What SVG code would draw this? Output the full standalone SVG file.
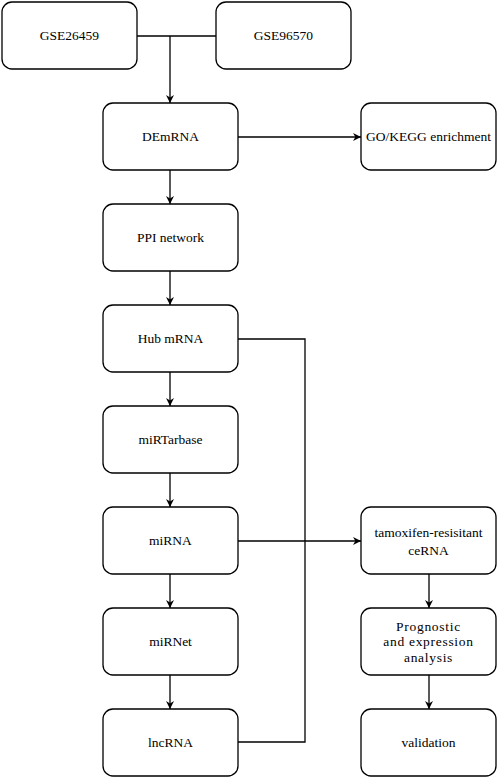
<svg xmlns="http://www.w3.org/2000/svg" width="498" height="780" viewBox="0 0 498 780">
<style>
.b{fill:#fff;stroke:#000;stroke-width:1.3}
.t{font-size:13.5px;fill:#000;text-anchor:middle;dominant-baseline:central}
.c{fill:none;stroke:#000;stroke-width:1.3}
.s{letter-spacing:0.7px}
</style>
<defs>
<marker id="a" viewBox="0 0 10 10" refX="10" refY="5" markerWidth="8" markerHeight="8" markerUnits="userSpaceOnUse" orient="auto">
<path d="M0,0 L10,5 L0,10 L3,5 Z" fill="#000"/>
</marker>
</defs>
<g id="connectors">
<path class="c" d="M137,36 H216"/>
<path class="c" d="M170,36 V103" marker-end="url(#a)"/>
<path class="c" d="M238,137 H361" marker-end="url(#a)"/>
<path class="c" d="M170,170 V204" marker-end="url(#a)"/>
<path class="c" d="M170,271 V305" marker-end="url(#a)"/>
<path class="c" d="M238,339 H305 V742 H238"/>
<path class="c" d="M170,372 V406" marker-end="url(#a)"/>
<path class="c" d="M170,473 V507" marker-end="url(#a)"/>
<path class="c" d="M238,541 H361" marker-end="url(#a)"/>
<path class="c" d="M170,574 V608" marker-end="url(#a)"/>
<path class="c" d="M170,675 V709" marker-end="url(#a)"/>
<path class="c" d="M429,574 V608" marker-end="url(#a)"/>
<path class="c" d="M429,675 V709" marker-end="url(#a)"/>
</g>
<g font-family="'Liberation Serif', 'DejaVu Serif', serif">
<g id="gse26459"><rect class="b" x="2" y="2" width="135" height="67" rx="10"/><text class="t" x="69.5" y="35.5">GSE26459</text></g>
<g id="gse96570"><rect class="b" x="216" y="2" width="135" height="67" rx="10"/><text class="t" x="283.5" y="35.5">GSE96570</text></g>
<g id="demrna"><rect class="b" x="103" y="103" width="135" height="67" rx="10"/><text class="t" x="170.5" y="136.5">DEmRNA</text></g>
<g id="gokegg"><rect class="b" x="361" y="103" width="135" height="67" rx="10"/><text class="t" x="428.5" y="136.5">GO/KEGG enrichment</text></g>
<g id="ppi"><rect class="b" x="103" y="204" width="135" height="67" rx="10"/><text class="t" x="170.5" y="237.5">PPI network</text></g>
<g id="hub"><rect class="b" x="103" y="305" width="135" height="67" rx="10"/><text class="t" x="170.5" y="338.5">Hub mRNA</text></g>
<g id="mirtarbase"><rect class="b" x="103" y="406" width="135" height="67" rx="10"/><text class="t" x="170.5" y="439.5">miRTarbase</text></g>
<g id="mirna"><rect class="b" x="103" y="507" width="135" height="67" rx="10"/><text class="t" x="170.5" y="540.5">miRNA</text></g>
<g id="mirnet"><rect class="b" x="103" y="608" width="135" height="67" rx="10"/><text class="t" x="170.5" y="641.5">miRNet</text></g>
<g id="lncrna"><rect class="b" x="103" y="709" width="135" height="67" rx="10"/><text class="t" x="170.5" y="742.5">lncRNA</text></g>
<g id="cerna"><rect class="b" x="361" y="507" width="135" height="67" rx="10"/><text class="t" x="428.5" y="532">tamoxifen-resisitant</text><text class="t" x="428.5" y="550">ceRNA</text></g>
<g id="prognostic"><rect class="b" x="361" y="608" width="135" height="67" rx="10"/><text class="t s" x="428.5" y="626">Prognostic</text><text class="t s" x="428.5" y="641.5">and expression</text><text class="t s" x="428.5" y="657">analysis</text></g>
<g id="validation"><rect class="b" x="361" y="709" width="135" height="67" rx="10"/><text class="t" x="428.5" y="742.5">validation</text></g>
</g>
</svg>
